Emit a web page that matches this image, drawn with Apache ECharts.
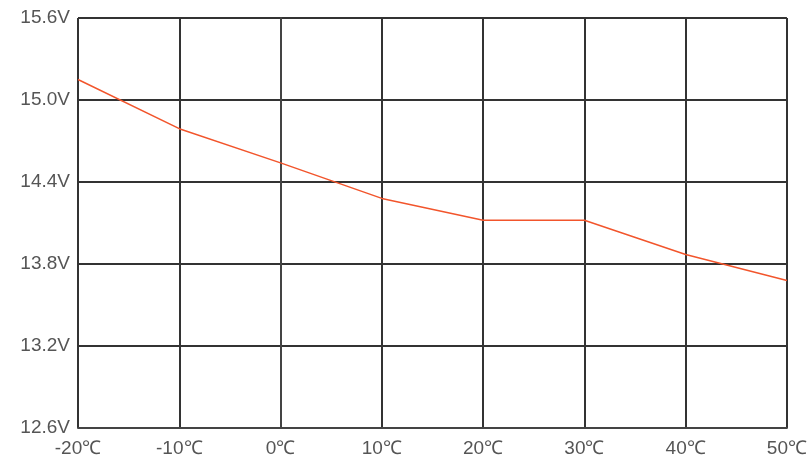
<!DOCTYPE html>
<html>
<head>
<meta charset="utf-8">
<script src="https://cdn.jsdelivr.net/npm/echarts@6/dist/echarts.min.js"></script>
<style>
  html, body { margin: 0; padding: 0; background: #fff; }
  #chart { width: 810px; height: 468px; }
</style>
</head>
<body>
<div id="chart"></div>
<script>
  // 温度 (℃) 与电压 (V)
  var temps = [-20, -10, 0, 10, 20, 30, 40, 50];
  var volts = [15.15, 14.79, 14.54, 14.28, 14.12, 14.12, 13.87, 13.68];

  var chart = echarts.init(document.getElementById('chart'));

  var option = {
    animation: false,
    grid: { left: 78, right: 22, top: 18, bottom: 40 },
    xAxis: {
      type: 'value',
      min: -20, max: 50, interval: 10,
      axisLine: { show: true, lineStyle: { color: '#444', width: 2 } },
      axisTick: { show: false },
      axisLabel: {
        color: '#555', fontSize: 19, fontFamily: 'Liberation Sans, Arial',
        margin: 11,
        formatter: function (v) { return v + '℃'; }
      },
      splitLine: { show: true, lineStyle: { color: '#333', width: 2 } }
    },
    yAxis: {
      type: 'value',
      min: 12.6, max: 15.6, interval: 0.6,
      axisLine: { show: true, lineStyle: { color: '#444', width: 2 } },
      axisTick: { show: false },
      axisLabel: {
        color: '#555', fontSize: 19, fontFamily: 'Liberation Sans, Arial',
        margin: 8,
        formatter: function (v) { return v.toFixed(1) + 'V'; }
      },
      splitLine: { show: true, lineStyle: { color: '#333', width: 2 } }
    },
    series: [{
      type: 'line',
      data: temps.map(function (t, i) { return [t, volts[i]]; }),
      symbol: 'none',
      lineStyle: { color: '#f2552c', width: 1.5 }
    }]
  };

  chart.setOption(option);
</script>
</body>
</html>
